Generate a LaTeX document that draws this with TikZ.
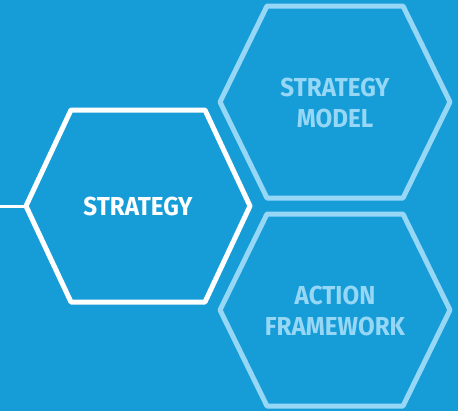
\documentclass[tikz,border=0pt]{standalone}
\usepackage{fontspec}
\setmainfont[FakeStretch=0.93]{Fira Sans}
\usepackage{xcolor}
\definecolor{bgblue}{RGB}{22,157,216}
\definecolor{paleblue}{RGB}{150,215,245}

\begin{document}
\begin{tikzpicture}[x=0.75pt,y=0.75pt,yscale=-1,xscale=1,
  hexline/.style={line width=3.75pt, line join=round},
  hextext/.style={inner sep=0.75pt, align=center, font=\fontsize{19.5}{23.25}\selectfont\bfseries}]
%background, fixes the page at 458 by 411
\fill [bgblue] (0,0) rectangle (458,411) ;
\useasboundingbox (0,0) rectangle (458,411) ;

%Shape: Hexagon [strategy]
\draw [hexline, color=white] (26,206) coordinate (stratL) -- (71,110) -- (205,110) -- (250,206) -- (205,302) -- (71,302) -- cycle ;
%Shape: Hexagon [strategy model]
\draw [hexline, color=paleblue] (220,102) -- (267,6) -- (403,6) -- (450,102) -- (403,198) -- (267,198) -- cycle ;
%Shape: Hexagon [action framework]
\draw [hexline, color=paleblue] (220,310) -- (267,214) -- (403,214) -- (450,310) -- (403,406) -- (267,406) -- cycle ;

%Straight Lines [lead in]
\coordinate (leadin) at (0,206) ;
\draw [color=white, line width=2.25pt] (leadin) -- (stratL) ;

% Text Node
\draw (138,206) node (strategy) [hextext, text=white] {STRATEGY};
% Text Node
\draw (335,103) node (model) [hextext, text=paleblue] {STRATEGY\\MODEL};
% Text Node
\draw (335,311) node (action) [hextext, text=paleblue] {ACTION\\FRAMEWORK};

\end{tikzpicture}
\end{document}
